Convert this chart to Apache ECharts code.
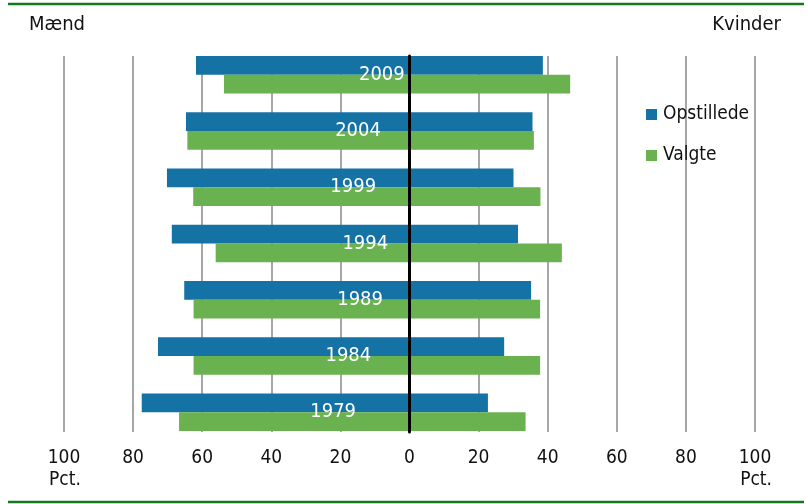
<!DOCTYPE html>
<html><head><meta charset="utf-8">
<script src="https://cdn.jsdelivr.net/npm/echarts@6/dist/echarts.min.js"></script>
<style>html,body{margin:0;padding:0;background:#fff}#c{width:808px;height:504px}</style>
</head><body><div id="c"></div>
<script>
var years = ['2009','2004','1999','1994','1989','1984','1979'];
var menOpstillede = [61.8, 64.7, 70.2, 68.8, 65.2, 72.8, 77.5];
var menValgte = [53.7, 64.3, 62.6, 56.1, 62.5, 62.5, 66.7];
var womenOpstillede = [38.6, 35.6, 30.1, 31.4, 35.2, 27.4, 22.7];
var womenValgte = [46.5, 36.0, 37.9, 44.1, 37.8, 37.8, 33.6];
var yearLabelX = [-8.0, -14.9, -16.3, -12.8, -14.3, -17.7, -22.1];
var seriesNames = ['Opstillede', 'Valgte'];

var FONT = '"Liberation Sans Narrow", "DejaVu Sans Condensed", "Open Sans", sans-serif';
var BLUE = '#1472a5', GREEN = '#6ab24f', FRAME = '#13791c', TXT = '#111';

var chart = echarts.init(document.getElementById('c'), null, {renderer: 'canvas'});
var barCommon = {type: 'bar', xAxisIndex: 0, yAxisIndex: 0, barCategoryGap: '33.3%', barGap: '0%'};
chart.setOption({
  animation: false,
  textStyle: {fontFamily: FONT},
  grid: [
    {left: 64, right: 53, top: 46.6, bottom: 63.6},
    {left: 64, right: 53, top: 56, bottom: 72}
  ],
  xAxis: [
    {gridIndex: 0, type: 'value', min: -100, max: 100, interval: 20, show: false},
    {gridIndex: 1, type: 'value', min: -100, max: 100, interval: 20,
     axisLine: {show: false}, axisTick: {show: false},
     splitLine: {show: true, lineStyle: {color: '#a6a6a6', width: 2}},
     axisLabel: {margin: 17, color: TXT, fontSize: 19, fontFamily: FONT,
       formatter: function (v) { return String(Math.abs(v)); }}}
  ],
  yAxis: [
    {gridIndex: 0, type: 'category', data: years, inverse: true, show: false},
    {gridIndex: 1, type: 'category', data: years, inverse: true, z: 10,
     axisLine: {show: true, onZero: true, lineStyle: {color: '#000', width: 3}},
     axisTick: {show: false}, axisLabel: {show: false}, splitLine: {show: false}}
  ],
  legend: {
    data: seriesNames, orient: 'vertical', left: 646, top: 105, padding: 0,
    icon: 'rect', itemWidth: 11, itemHeight: 11, itemGap: 22,
    textStyle: {fontSize: 19, color: TXT, fontFamily: FONT, padding: [0, 0, 0, 1]}
  },
  series: [
    Object.assign({}, barCommon, {name: seriesNames[0], stack: 'opst', itemStyle: {color: BLUE},
      data: menOpstillede.map(function (v) { return -v; })}),
    Object.assign({}, barCommon, {name: seriesNames[0], stack: 'opst', itemStyle: {color: BLUE},
      data: womenOpstillede}),
    Object.assign({}, barCommon, {name: seriesNames[1], stack: 'valgt', itemStyle: {color: GREEN},
      data: menValgte.map(function (v) { return -v; })}),
    Object.assign({}, barCommon, {name: seriesNames[1], stack: 'valgt', itemStyle: {color: GREEN},
      data: womenValgte}),
    {type: 'scatter', xAxisIndex: 0, yAxisIndex: 0, symbolSize: 0, z: 20, silent: true,
     itemStyle: {opacity: 1},
     data: years.map(function (y, i) { return [yearLabelX[i], y]; }),
     label: {show: true, position: 'inside', color: '#ffffff', opacity: 1, fontSize: 20, fontFamily: FONT,
       formatter: function (p) { return p.value[1]; }}}
  ],
  graphic: [
    {type: 'line', shape: {x1: 8, y1: 4, x2: 804, y2: 4}, style: {stroke: FRAME, lineWidth: 2.5}},
    {type: 'line', shape: {x1: 8, y1: 502, x2: 804, y2: 502}, style: {stroke: FRAME, lineWidth: 2.5}},
    {type: 'text', left: 29, top: 15, style: {text: 'Mænd', fontSize: 20, fontFamily: FONT, fill: TXT}},
    {type: 'text', right: 27, top: 15, style: {text: 'Kvinder', fontSize: 20, fontFamily: FONT, fill: TXT}},
    {type: 'text', left: 49, top: 471, style: {text: 'Pct.', fontSize: 19, fontFamily: FONT, fill: TXT}},
    {type: 'text', right: 36, top: 471, style: {text: 'Pct.', fontSize: 19, fontFamily: FONT, fill: TXT}}
  ]
});
</script></body></html>
